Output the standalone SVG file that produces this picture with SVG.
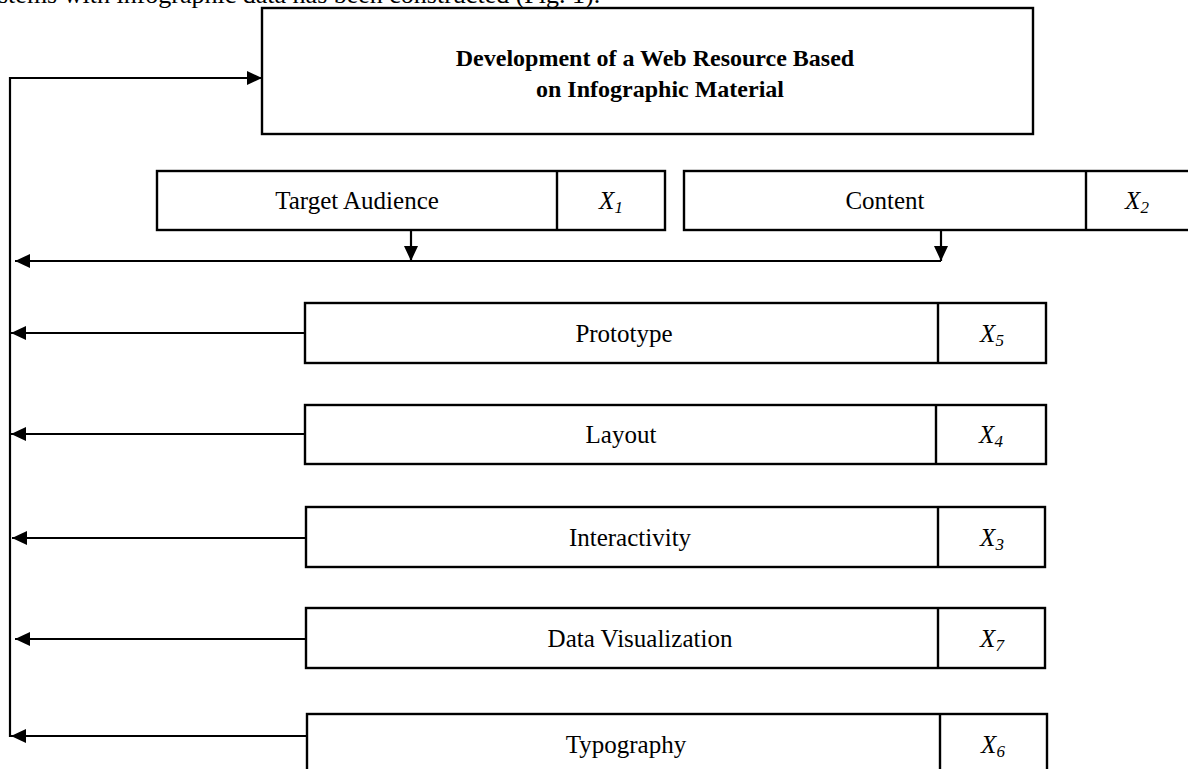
<svg xmlns="http://www.w3.org/2000/svg" width="1188" height="769" viewBox="0 0 1188 769">
  <style>
    .box { fill: #ffffff; stroke: #000000; stroke-width: 2.4; }
    .div { stroke: #000000; stroke-width: 2.4; }
    .wire { fill: none; stroke: #000000; stroke-width: 2.2; }
    .lbl { font-family: "Liberation Serif", "Times New Roman", serif; font-size: 25px; fill: #000000; text-anchor: middle; }
    .var { font-family: "Liberation Serif", "Times New Roman", serif; font-size: 25px; font-style: italic; fill: #000000; text-anchor: middle; }
    .sub { font-size: 17px; }
    .ttl { font-family: "Liberation Serif", "Times New Roman", serif; font-size: 24px; font-weight: bold; fill: #000000; text-anchor: middle; }
    .body { font-family: "Liberation Serif", "Times New Roman", serif; font-size: 26px; fill: #000000; }
  </style>
  <defs>
    <marker id="head" viewBox="0 0 15 14" refX="15" refY="7" markerWidth="15" markerHeight="14" markerUnits="userSpaceOnUse" orient="auto">
      <path d="M0,0 L15,7 L0,14 Z" fill="#000000"/>
    </marker>
  </defs>

  <!-- running text line above the figure -->
  <text class="body" x="-2" y="3">stems with infographic data has been constructed (Fig. 1).</text>

  <g id="connectors">
    <!-- feedback bus into the main block -->
    <path class="wire" d="M10,737 L10,78 L262,78" marker-end="url(#head)"/>
    <!-- factors feeding the horizontal bus -->
    <path class="wire" d="M411,230 L411,261" marker-end="url(#head)"/>
    <path class="wire" d="M941,230 L941,261" marker-end="url(#head)"/>
    <path class="wire" d="M941,261 L15,261" marker-end="url(#head)"/>
    <!-- factor rows to the vertical bus -->
    <path class="wire" d="M305,333 L11,333" marker-end="url(#head)"/>
    <path class="wire" d="M305,434 L11,434" marker-end="url(#head)"/>
    <path class="wire" d="M306,538 L12,538" marker-end="url(#head)"/>
    <path class="wire" d="M306,639 L15,639" marker-end="url(#head)"/>
    <path class="wire" d="M307,736 L11,736" marker-end="url(#head)"/>
  </g>

  <g id="main">
    <rect class="box" x="262" y="8" width="771" height="126"/>
    <text class="ttl" x="655" y="66">Development of a Web Resource Based</text>
    <text class="ttl" x="660" y="97">on Infographic Material</text>
  </g>

  <g id="target-audience">
    <rect class="box" x="157" y="171" width="508" height="59"/>
    <line class="div" x1="557" y1="171" x2="557" y2="230"/>
    <text class="lbl" x="357" y="209">Target Audience</text>
    <text class="var" x="611" y="209">X<tspan class="sub" dy="4">1</tspan></text>
  </g>

  <g id="content">
    <rect class="box" x="684" y="171" width="520" height="59"/>
    <line class="div" x1="1086" y1="171" x2="1086" y2="230"/>
    <text class="lbl" x="885" y="209">Content</text>
    <text class="var" x="1137" y="209">X<tspan class="sub" dy="4">2</tspan></text>
  </g>

  <g id="prototype">
    <rect class="box" x="305" y="303" width="741" height="60"/>
    <line class="div" x1="938" y1="303" x2="938" y2="363"/>
    <text class="lbl" x="624" y="342">Prototype</text>
    <text class="var" x="992" y="342">X<tspan class="sub" dy="4">5</tspan></text>
  </g>

  <g id="layout">
    <rect class="box" x="305" y="405" width="741" height="59"/>
    <line class="div" x1="936" y1="405" x2="936" y2="464"/>
    <text class="lbl" x="621" y="443">Layout</text>
    <text class="var" x="991" y="443">X<tspan class="sub" dy="4">4</tspan></text>
  </g>

  <g id="interactivity">
    <rect class="box" x="306" y="507" width="739" height="60"/>
    <line class="div" x1="938" y1="507" x2="938" y2="567"/>
    <text class="lbl" x="630" y="546">Interactivity</text>
    <text class="var" x="992" y="546">X<tspan class="sub" dy="4">3</tspan></text>
  </g>

  <g id="data-visualization">
    <rect class="box" x="306" y="608" width="739" height="60"/>
    <line class="div" x1="938" y1="608" x2="938" y2="668"/>
    <text class="lbl" x="640" y="647">Data Visualization</text>
    <text class="var" x="992" y="647">X<tspan class="sub" dy="4">7</tspan></text>
  </g>

  <g id="typography">
    <rect class="box" x="307" y="714" width="740" height="70"/>
    <line class="div" x1="940" y1="714" x2="940" y2="784"/>
    <text class="lbl" x="626" y="753">Typography</text>
    <text class="var" x="993" y="753">X<tspan class="sub" dy="4">6</tspan></text>
  </g>
</svg>
